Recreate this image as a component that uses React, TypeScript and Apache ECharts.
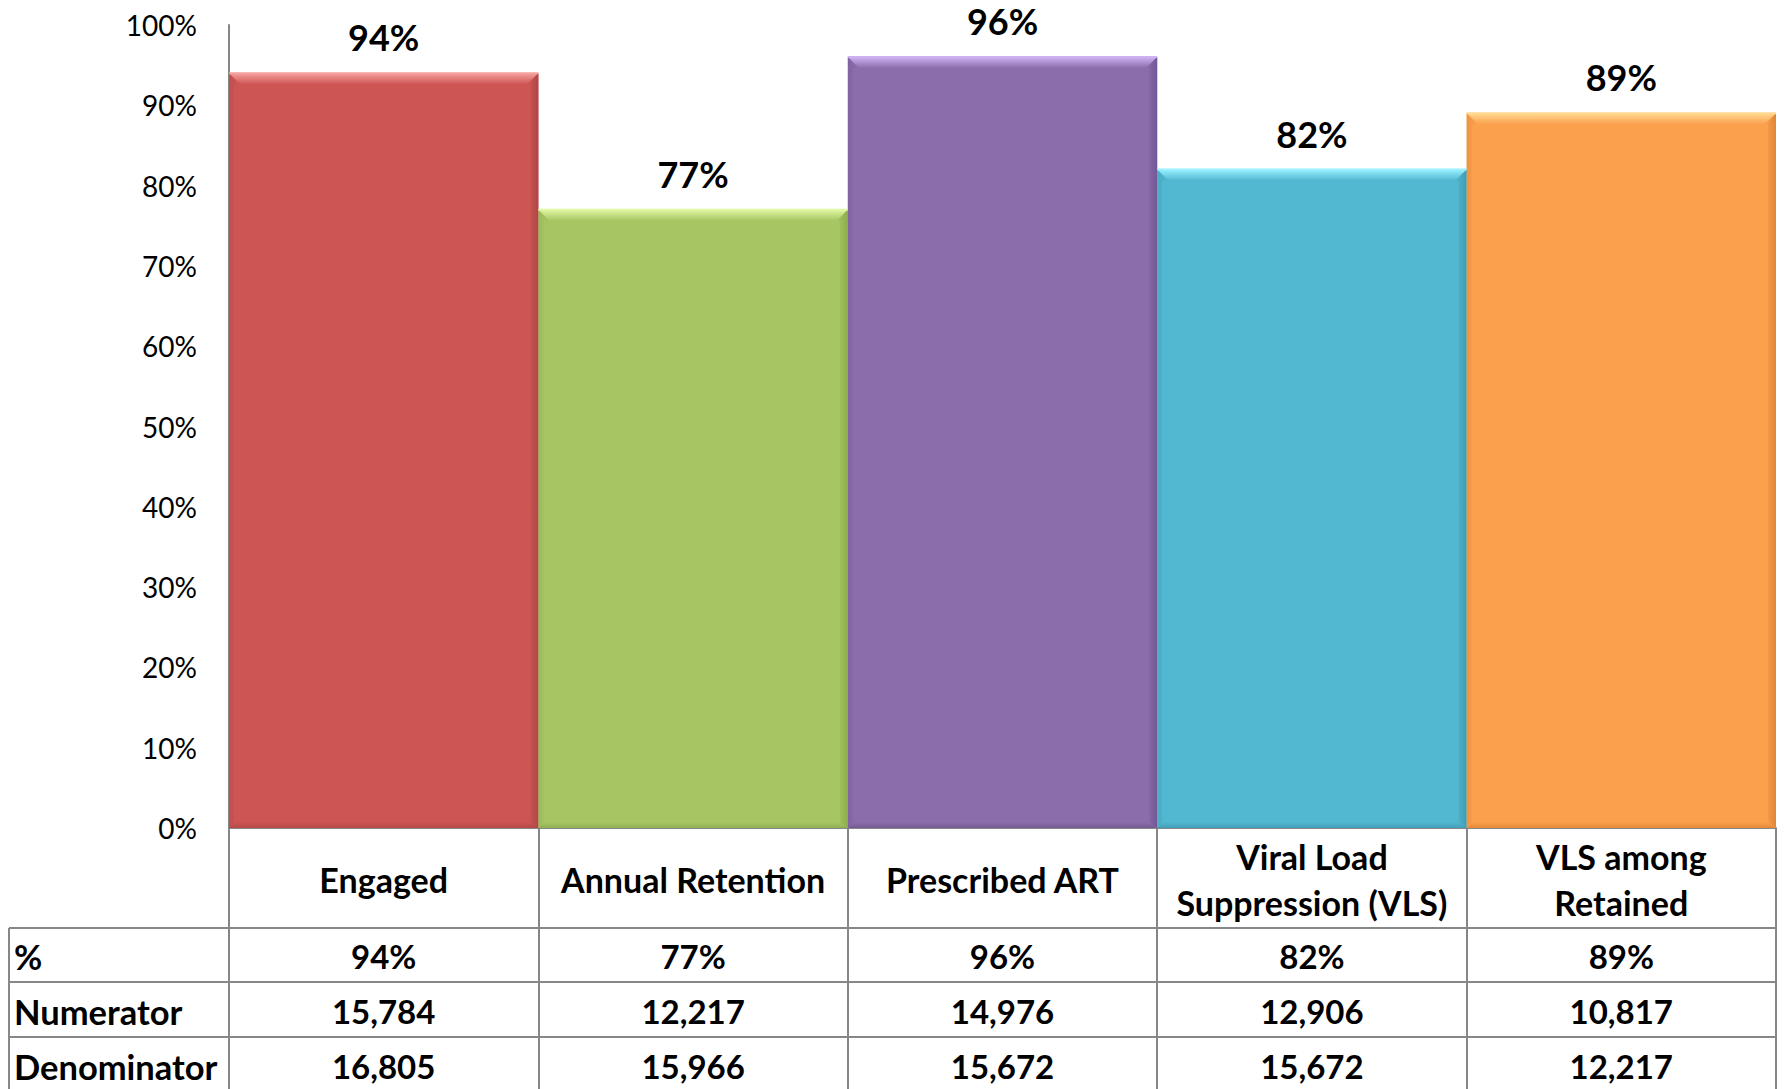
import React, { useEffect, useRef } from "react";
import * as echarts from "echarts";

// Care continuum categories and their values
const categories = [
  "Engaged",
  "Annual Retention",
  "Prescribed ART",
  "Viral Load\nSuppression (VLS)",
  "VLS among\nRetained",
];
const percentValues = [94, 77, 96, 82, 89];
const numerators = [15784, 12217, 14976, 12906, 10817];
const denominators = [16805, 15966, 15672, 15672, 12217];
const rowHeaders = ["%", "Numerator", "Denominator"];

// Bar fills with lighter / darker shades for the bevel edges
const barColors = ["#CD5654", "#A7C663", "#8B6DAB", "#52B7D0", "#FBA04D"];
const bevelLight = ["#F5A09D", "#E0F7A2", "#CDB2F2", "#9AF0FF", "#FFD98F"];
const bevelDark = ["#A84341", "#86A547", "#6C528E", "#3A96AE", "#D68030"];

const W = 1785;
const H = 1089;
const GRID_LEFT = 229;
const GRID_RIGHT = 9;
const GRID_TOP = 25;
const AXIS_Y = 828;
const TABLE_LEFT = 9;
const ROW_LINES = [928, 982, 1037];
const ROW_CENTERS = [956, 1011, 1066];
const HEADER_CENTER = 879;

const FONT = "Lato, 'Open Sans', sans-serif";
const LINE = "#878787";

const fmt = (n: number) => n.toLocaleString("en-US");

export default function App() {
  const ref = useRef<HTMLDivElement>(null);

  useEffect(() => {
    document.body.style.margin = "0";
    if (!ref.current) return;
    const chart = echarts.init(ref.current, undefined, { renderer: "svg" });

    const rowAxis = (data: string[], center: number) => ({
      type: "category",
      gridIndex: 0,
      position: "bottom",
      data,
      axisLine: { show: false },
      axisTick: { show: false },
      splitLine: { show: false },
      axisLabel: {
        interval: 0,
        margin: center - AXIS_Y,
        verticalAlign: "middle",
        fontFamily: FONT,
        fontWeight: "bold",
        fontSize: 33,
        color: "#000",
      },
    });

    const graphics: any[] = [];
    ROW_LINES.forEach((y) => {
      graphics.push({
        type: "line",
        shape: { x1: TABLE_LEFT, y1: y, x2: W - GRID_RIGHT, y2: y },
        style: { stroke: LINE, lineWidth: 2 },
      });
    });
    graphics.push({
      type: "line",
      shape: { x1: TABLE_LEFT, y1: ROW_LINES[0], x2: TABLE_LEFT, y2: H },
      style: { stroke: LINE, lineWidth: 2 },
    });
    rowHeaders.forEach((t, i) => {
      graphics.push({
        type: "text",
        x: 14,
        y: ROW_CENTERS[i],
        style: {
          text: t,
          fontFamily: FONT,
          fontWeight: "bold",
          fontSize: 34.5,
          fill: "#000",
          verticalAlign: "middle",
        },
      });
    });

    const option: any = {
      animation: false,
      backgroundColor: "#fff",
      grid: {
        left: GRID_LEFT,
        right: GRID_RIGHT,
        top: GRID_TOP,
        bottom: H - AXIS_Y,
        containLabel: false,
      },
      xAxis: [
        {
          type: "category",
          gridIndex: 0,
          position: "bottom",
          data: categories,
          axisLine: { show: true, lineStyle: { color: LINE, width: 2 } },
          axisTick: {
            show: true,
            interval: 0,
            length: H - AXIS_Y,
            lineStyle: { color: LINE, width: 2 },
          },
          axisLabel: {
            interval: 0,
            margin: HEADER_CENTER - AXIS_Y,
            verticalAlign: "middle",
            fontFamily: FONT,
            fontWeight: "bold",
            fontSize: 34,
            lineHeight: 46,
            color: "#000",
          },
        },
        rowAxis(percentValues.map((v) => v + "%"), ROW_CENTERS[0]),
        rowAxis(numerators.map(fmt), ROW_CENTERS[1]),
        rowAxis(denominators.map(fmt), ROW_CENTERS[2]),
      ],
      yAxis: {
        type: "value",
        min: 0,
        max: 100,
        interval: 10,
        axisLine: { show: true, lineStyle: { color: LINE, width: 2 } },
        axisTick: { show: false },
        splitLine: { show: false },
        axisLabel: {
          formatter: "{value}%",
          margin: 32,
          fontFamily: FONT,
          fontSize: 28,
          color: "#000",
        },
      },
      series: [
        {
          type: "bar",
          xAxisIndex: 0,
          yAxisIndex: 0,
          barCategoryGap: "0%",
          data: percentValues.map((v, i) => ({
            value: v,
            itemStyle: { color: barColors[i] },
          })),
          label: {
            show: true,
            position: "top",
            distance: 18,
            formatter: "{c}%",
            fontFamily: FONT,
            fontWeight: "bold",
            fontSize: 36,
            color: "#000",
          },
          z: 2,
        },
        {
          // bevelled edges drawn over each bar
          type: "custom",
          xAxisIndex: 0,
          yAxisIndex: 0,
          silent: true,
          z: 3,
          encode: { x: 0, y: 1 },
          data: percentValues.map((v, i) => [i, v]),
          renderItem: (params: any, api: any) => {
            const i = api.value(0);
            const v = api.value(1);
            const top = api.coord([i, v]);
            const base = api.coord([i, 0]);
            const w = api.size([1, 0])[0];
            const x0 = top[0] - w / 2;
            const x1 = top[0] + w / 2;
            const y0 = top[1];
            const y1 = base[1];
            const b = 11;
            const main = barColors[i];
            const light = bevelLight[i];
            const dark = bevelDark[i];
            return {
              type: "group",
              children: [
                {
                  type: "polygon",
                  shape: {
                    points: [
                      [x0, y0],
                      [x1, y0],
                      [x1 - b, y0 + b],
                      [x0 + b, y0 + b],
                    ],
                  },
                  style: {
                    fill: new echarts.graphic.LinearGradient(0, 0, 0, 1, [
                      { offset: 0, color: light },
                      { offset: 1, color: main },
                    ]),
                  },
                },
                {
                  type: "polygon",
                  shape: {
                    points: [
                      [x1, y0],
                      [x1, y1],
                      [x1 - 8, y1 - 6],
                      [x1 - 8, y0 + b],
                      [x1 - b, y0 + b],
                    ],
                  },
                  style: {
                    fill: new echarts.graphic.LinearGradient(0, 0, 1, 0, [
                      { offset: 0, color: main },
                      { offset: 1, color: dark },
                    ]),
                    opacity: 0.8,
                  },
                },
                {
                  type: "polygon",
                  shape: {
                    points: [
                      [x0, y1],
                      [x1, y1],
                      [x1 - 8, y1 - 6],
                      [x0 + 6, y1 - 6],
                    ],
                  },
                  style: {
                    fill: new echarts.graphic.LinearGradient(0, 0, 0, 1, [
                      { offset: 0, color: main },
                      { offset: 1, color: dark },
                    ]),
                    opacity: 0.7,
                  },
                },
                {
                  type: "polygon",
                  shape: {
                    points: [
                      [x0, y0],
                      [x0 + b, y0 + b],
                      [x0 + 5, y0 + b],
                      [x0 + 5, y1 - 6],
                      [x0, y1],
                    ],
                  },
                  style: {
                    fill: new echarts.graphic.LinearGradient(0, 0, 1, 0, [
                      { offset: 0, color: dark },
                      { offset: 1, color: main },
                    ]),
                    opacity: 0.35,
                  },
                },
                {
                  type: "line",
                  shape: { x1: x0, y1: y0, x2: x1, y2: y0 },
                  style: { stroke: light, lineWidth: 2 },
                },
              ],
            };
          },
        },
      ],
      graphic: graphics,
    };

    chart.setOption(option);
    return () => chart.dispose();
  }, []);

  return (
    <div
      ref={ref}
      style={{ position: "absolute", left: 0, top: 0, width: W, height: H }}
    />
  );
}
